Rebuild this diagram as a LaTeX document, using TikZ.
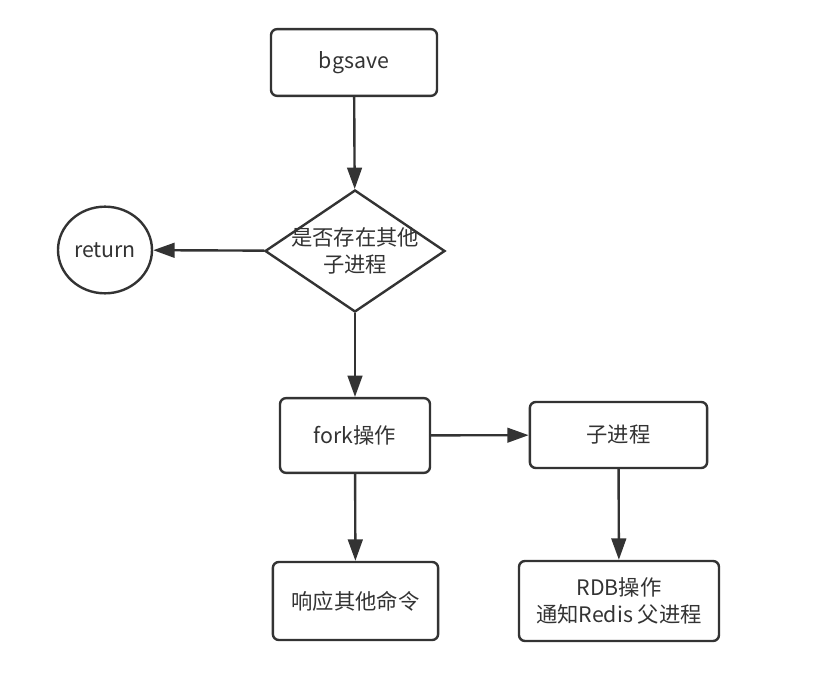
\documentclass[tikz,border=0pt]{standalone}
\usepackage{fontspec}
\setmainfont{Noto Sans CJK SC}
\definecolor{inkgray}{RGB}{51,51,51}
\usetikzlibrary{arrows.meta,positioning,shapes.geometric}

\begin{document}
\begin{tikzpicture}[x=0.75pt,y=-0.75pt,
  stepbox/.style={draw=inkgray,line width=1.8pt,rounded corners=4.5pt,
    font=\fontsize{16}{20}\selectfont,text=inkgray,align=center,inner sep=0pt},
  flow/.style={draw=inkgray,line width=1.8pt,-{Triangle[length=16pt,width=11pt]}},
  lbl/.style={font=\fontsize{16}{20}\selectfont,text=inkgray,align=center}
]
  \useasboundingbox (0,0) rectangle (836,684);
  \node[stepbox,minimum width=124.5pt,minimum height=50pt] (bgsave) at (354,62.5) {bgsave};
  \node[draw=inkgray,line width=1.8pt,diamond,inner sep=0pt,
    minimum width=135pt,minimum height=91.5pt] (check) at (355,251) {};
  \node[lbl] (checktext) at (355,251) {是否存在其他\\子进程};
  \node[draw=inkgray,line width=1.8pt,ellipse,inner sep=0pt,lbl,
    minimum width=70.5pt,minimum height=65pt] (ret) at (105,250) {return};
  \node[stepbox,minimum width=112.5pt,minimum height=56pt] (fork) at (355,435.5) {fork操作};
  \node[stepbox,minimum width=133pt,minimum height=49.5pt] (child) at (618.5,435) {子进程};
  \node[stepbox,minimum width=124pt,minimum height=58.5pt] (resp) at (355.5,601) {响应其他命令};
  \node[stepbox,minimum width=150pt,minimum height=60pt] (rdb) at (619,601) {RDB操作\\通知Redis 父进程};

  \draw[flow] (bgsave) -- (check);
  \draw[flow] (check) -- (ret);
  \draw[flow] (check) -- (fork);
  \draw[flow] (fork) -- (child);
  \draw[flow] (fork) -- (resp);
  \draw[flow] (child) -- (rdb);
\end{tikzpicture}
\end{document}
